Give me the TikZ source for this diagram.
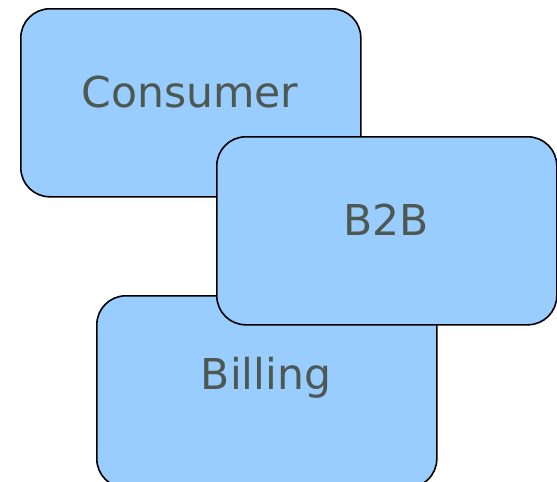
\documentclass[tikz,border=0pt]{standalone}
\usepackage{fontspec}
\setmainfont{DejaVu Sans}
\definecolor{boxfill}{HTML}{99CCFF}
\definecolor{labelgray}{HTML}{4C5850}
\begin{document}
\begin{tikzpicture}[x=1pt,y=-1pt,
  card/.style={draw=black, line width=1.6pt, fill=boxfill, rounded corners=29pt,
    minimum width=340pt, minimum height=188pt, inner sep=0pt, anchor=north west},
  cardtext/.style={text=labelgray, font=\fontsize{42.5}{50}\selectfont, anchor=base, inner sep=0pt}]
  \useasboundingbox (0,0) rectangle (557,482);
  \begin{scope}
  \clip (0,0) rectangle (557,482);
  % back card
  \node[card] (consumer) at (20,8) {};
  \node[cardtext] (consumerlbl) at (190,107) {Consumer};
  % bottom card, running past the lower edge
  \node[card, minimum height=192pt] (billing) at (96,295) {};
  \node[cardtext] (billinglbl) at (266,389) {Billing};
  % front card
  \node[card] (b2b) at (216,136) {};
  \node[cardtext] (b2blbl) at (386,235) {B2B};
  \end{scope}
\end{tikzpicture}
\end{document}
